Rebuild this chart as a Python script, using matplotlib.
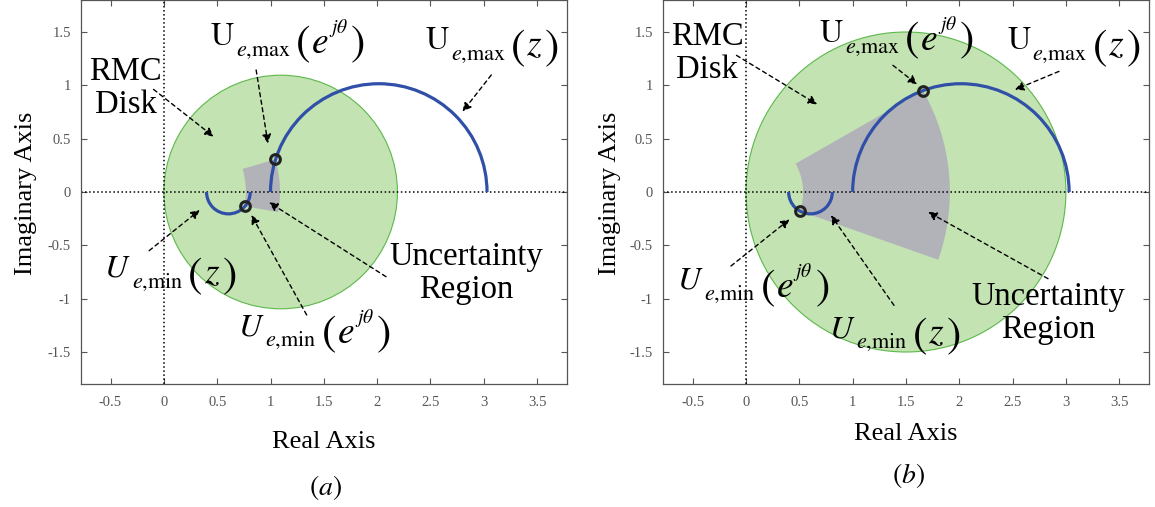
import numpy as np
import matplotlib.pyplot as plt
from matplotlib.patches import Circle, Wedge, Arc
from matplotlib.ticker import FormatStrFormatter
from matplotlib.transforms import offset_copy

plt.rcParams['font.family'] = ['Liberation Serif', 'DejaVu Serif']
plt.rcParams['mathtext.fontset'] = 'stix'
plt.rcParams['axes.unicode_minus'] = False

# ---- data ----
panels = ['a', 'b']
disk_center = [1.095, 1.5]      # RMC disk centre on the real axis
disk_radius = [1.095, 1.5]
umax_center = 2.015              # U_e,max(z) half circle
umax_radius = 1.015
umin_center = 0.605              # U_e,min(z) half circle
umin_radius = 0.205
pt_max_x = [1.045, 1.66]         # U_e,max(e^jtheta)
pt_max_y = [0.306, 0.948]
pt_min_x = [0.757, 0.505]        # U_e,min(e^jtheta)
pt_min_y = [-0.133, -0.178]
x_ticks = [-0.5, 0, 0.5, 1, 1.5, 2, 2.5, 3, 3.5]
y_ticks = [-1.5, -1, -0.5, 0, 0.5, 1, 1.5]

lab_rmc = 'RMC\nDisk'
lab_unc = 'Uncertainty\nRegion'
# function labels: (name, subscript, argument)
lab_max_e = (r'$\mathrm{U}$', r'$e{,}\mathrm{max}$', 'e')
lab_max_z = (r'$\mathrm{U}$', r'$e{,}\mathrm{max}$', 'z')
lab_min_e = (r'$U$', r'$e{,}\mathrm{min}$', 'e')
lab_min_z = (r'$U$', r'$e{,}\mathrm{min}$', 'z')

# label, text centre, arrow tail, arrow head
notes = [
    [(lab_rmc, (-0.36, 0.97), (-0.097, 0.962), (0.467, 0.519)),
     (lab_max_e, (1.156, 1.394), (0.865, 1.144), (0.976, 0.456)),
     (lab_max_z, (3.076, 1.356), (3.07, 1.097), (2.8, 0.753)),
     (lab_min_z, (0.059, -0.778), (-0.138, -0.55), (0.336, -0.169)),
     (lab_min_e, (1.408, -1.325), (1.339, -1.153), (0.82, -0.216)),
     (lab_unc, (2.834, -0.765), (2.083, -0.794), (0.986, -0.097))],
    [(lab_rmc, (-0.364, 1.303), (-0.089, 1.281), (0.667, 0.822)),
     (lab_max_e, (1.412, 1.428), (1.378, 1.1875), (1.605, 1.009)),
     (lab_max_z, (3.072, 1.359), (2.935, 1.131), (2.522, 0.959)),
     (lab_min_e, (0.065, -0.89), (-0.141, -0.694), (0.409, -0.256)),
     (lab_min_z, (1.395, -1.344), (1.388, -1.0625), (0.797, -0.219)),
     (lab_unc, (2.832, -1.134), (2.832, -0.8125), (1.708, -0.1875))],
]

W, H = 1155, 507
fig = plt.figure(figsize=(W / 100, H / 100), dpi=100)
renderer = fig.canvas.get_renderer()
ax_left = [80.7, 662.8]
ax_w = 486.3
ax_h = 384

xlab_pos = [(324, 442), (906, 434)]
cap_pos = [(326, 488), (908, 475)]
ylab_x = [26, 610]

green = '#c4e3b3'
gray = '#b2b3b9'
blue = '#3050a8'
FS = 23.5


def func_label(ax, xy, name, sub, arg):
    # U, subscript, big "(", argument, big ")" laid out left to right (pixels)
    parts = [(name, 23, 0, 0), (sub, 16, -11, 1), (r'$($', 31, -10, 4)]
    if arg == 'e':
        parts += [(r'$e$', 27, -8, 1), (r'$j\theta$', 14, 12, 0)]
    else:
        parts += [(r'$z$', 27, -6, 1)]
    parts += [(r'$)$', 31, -10, 2)]
    placed = []
    x = 0
    for s, fs, dy, gap in parts:
        x += gap
        t = ax.text(xy[0], xy[1], s, fontsize=fs, ha='left', va='baseline',
                    zorder=6)
        w = t.get_window_extent(renderer).width
        placed.append((t, x, dy))
        x += w
    for t, x0, dy in placed:
        t.set_transform(offset_copy(ax.transData, fig=fig, x=x0 - x / 2,
                                    y=dy - 2, units='dots'))


for i, p in enumerate(panels):
    ax = fig.add_axes([ax_left[i] / W, 1 - ax_h / H, ax_w / W, ax_h / H])
    ax.set_xlim(-0.78, 3.78)
    ax.set_ylim(-1.8, 1.8)

    ax.add_patch(Circle((disk_center[i], 0), disk_radius[i], facecolor=green,
                        edgecolor='#5cb84a', lw=0.8, zorder=1))

    # uncertainty region: annular sector spanned by the two boundary points
    r_out = np.hypot(pt_max_x[i], pt_max_y[i])
    r_in = np.hypot(pt_min_x[i], pt_min_y[i])
    a_max = np.degrees(np.arctan2(pt_max_y[i], pt_max_x[i]))
    a_min = np.degrees(np.arctan2(pt_min_y[i], pt_min_x[i]))
    ax.add_patch(Wedge((0, 0), r_out, a_min, a_max, width=r_out - r_in,
                       facecolor=gray, edgecolor='none', zorder=2))

    ax.axhline(0, color='k', ls=':', lw=1.1, zorder=2.5)
    ax.axvline(0, color='k', ls=':', lw=1.1, zorder=2.5)

    ax.add_patch(Arc((umax_center, 0), 2 * umax_radius, 2 * umax_radius,
                     theta1=0, theta2=180, color=blue, lw=2.3, zorder=3))
    ax.add_patch(Arc((umin_center, 0), 2 * umin_radius, 2 * umin_radius,
                     theta1=180, theta2=360, color=blue, lw=2.3, zorder=3))

    ax.plot([pt_max_x[i], pt_min_x[i]], [pt_max_y[i], pt_min_y[i]], 'o',
            ms=7, mfc='none', mec='#222222', mew=2.2, zorder=4)

    for txt, txy, tail, head in notes[i]:
        ax.annotate('', xy=head, xytext=tail,
                    arrowprops=dict(arrowstyle='-|>', color='k', lw=1.0,
                                    ls=(0, (3, 2.5)), mutation_scale=13,
                                    shrinkA=0, shrinkB=0), zorder=5)
        if isinstance(txt, tuple):
            func_label(ax, txy, *txt)
        else:
            ax.text(txy[0], txy[1], txt, ha='center', va='center',
                    fontsize=FS, linespacing=1.1, zorder=6)

    ax.set_xticks(x_ticks)
    ax.set_yticks(y_ticks)
    ax.xaxis.set_major_formatter(FormatStrFormatter('%g'))
    ax.yaxis.set_major_formatter(FormatStrFormatter('%g'))
    ax.tick_params(direction='in', top=True, right=True, length=4, width=0.8,
                   color='#555555', labelcolor='#555555', labelsize=10.5)
    ax.tick_params(axis='x', pad=9)
    ax.tick_params(axis='y', pad=7)
    for s in ax.spines.values():
        s.set_color('#555555')
        s.set_linewidth(0.9)

    fig.text(xlab_pos[i][0] / W, 1 - xlab_pos[i][1] / H, 'Real Axis',
             ha='center', va='center', fontsize=19)
    fig.text(ylab_x[i] / W, 1 - 193 / H, 'Imaginary Axis', rotation=90,
             ha='center', va='center', fontsize=19)
    fig.text(cap_pos[i][0] / W, 1 - cap_pos[i][1] / H,
             r'$\left(%s\right)$' % p, ha='center', va='center', fontsize=20)

fig.savefig('out.png', dpi=100)
